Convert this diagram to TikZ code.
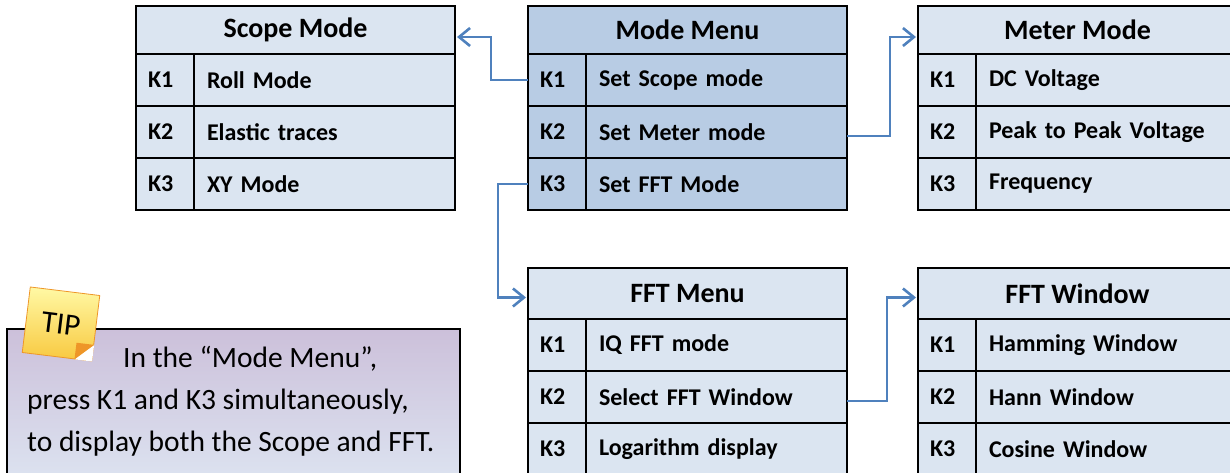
\documentclass[tikz,border=0pt]{standalone}
\usepackage{fontspec}
\setmainfont{Carlito}
\usetikzlibrary{arrows.meta, positioning, calc}
\definecolor{cellblue}{RGB}{219,229,241}
\definecolor{menublue}{RGB}{184,204,228}
\definecolor{linkblue}{RGB}{79,129,189}
\definecolor{tiptop}{RGB}{204,192,218}
\definecolor{tipbottom}{RGB}{222,231,243}
\definecolor{noteyellow}{RGB}{255,249,165}
\definecolor{noteorange}{RGB}{248,200,62}
\definecolor{notefold}{RGB}{238,150,40}

\begin{document}
\begin{tikzpicture}[
    x=1pt, y=-1pt,
    headcell/.style={rectangle, draw=black, line width=1.2pt, fill=cellblue,
                minimum width=319pt, minimum height=48pt, inner sep=0pt, outer sep=0pt,
                anchor=north west, font=\fontsize{28}{34}\selectfont\bfseries},
    keycell/.style={rectangle, draw=black, line width=1.2pt, fill=cellblue,
                text width=34pt, inner xsep=12pt, inner ysep=0pt, outer sep=0pt,
                minimum height=52pt, align=left, font=\fontsize{24}{29}\selectfont\bfseries},
    rowcell/.style={keycell, text width=235pt, inner xsep=13pt},
    tableframe/.style={draw=black, line width=2.6pt},
    link/.style={draw=linkblue, line width=2.6pt, shorten >=2pt,
                -{Straight Barb[length=11pt, width=18pt]}},
    tipbox/.style={rectangle, draw=black, line width=2pt, top color=tiptop,
                bottom color=tipbottom, minimum width=453pt, minimum height=170pt},
    tipnote/.style={rectangle, draw=notefold, line width=0.8pt, top color=noteyellow,
                bottom color=noteorange, minimum width=70pt, minimum height=66pt,
                inner sep=0pt, font=\fontsize{31}{31}\selectfont},
    tiptext/.style={inner sep=0pt, align=left, font=\fontsize{29.5}{42}\selectfont}
]
    \clip (0,0) rectangle (1230,473);

    % Scope mode
    \node[headcell] (scope) at (136,6) {Scope Mode};
    \node[keycell, anchor=north west] (scopek1) at (scope.south west) {K1};
    \node[rowcell, right=0pt of scopek1] (roll) {Roll Mode};
    \node[keycell, below=0pt of scopek1] (scopek2) {K2};
    \node[rowcell, right=0pt of scopek2] (elastic) {Elastic traces};
    \node[keycell, below=0pt of scopek2] (scopek3) {K3};
    \node[rowcell, right=0pt of scopek3] (xymode) {XY Mode};

    % Mode menu
    \node[headcell, fill=menublue] (menu) at (528,6) {Mode Menu};
    \node[keycell, fill=menublue, anchor=north west] (menuk1) at (menu.south west) {K1};
    \node[rowcell, fill=menublue, right=0pt of menuk1] (setscope) {Set Scope mode};
    \node[keycell, fill=menublue, below=0pt of menuk1] (menuk2) {K2};
    \node[rowcell, fill=menublue, right=0pt of menuk2] (setmeter) {Set Meter mode};
    \node[keycell, fill=menublue, below=0pt of menuk2] (menuk3) {K3};
    \node[rowcell, fill=menublue, right=0pt of menuk3] (setfft) {Set FFT Mode};

    % Meter mode
    \node[headcell] (meter) at (918,6) {Meter Mode};
    \node[keycell, anchor=north west] (meterk1) at (meter.south west) {K1};
    \node[rowcell, right=0pt of meterk1] (dcvolt) {DC Voltage};
    \node[keycell, below=0pt of meterk1] (meterk2) {K2};
    \node[rowcell, right=0pt of meterk2] (peakvolt) {Peak to Peak Voltage};
    \node[keycell, below=0pt of meterk2] (meterk3) {K3};
    \node[rowcell, right=0pt of meterk3] (freq) {Frequency};

    % FFT menu
    \node[headcell, minimum height=51pt] (fft) at (528,268) {FFT Menu};
    \node[keycell, anchor=north west] (fftk1) at (fft.south west) {K1};
    \node[rowcell, right=0pt of fftk1] (iqfft) {IQ FFT mode};
    \node[keycell, below=0pt of fftk1] (fftk2) {K2};
    \node[rowcell, right=0pt of fftk2] (selwin) {Select FFT Window};
    \node[keycell, below=0pt of fftk2] (fftk3) {K3};
    \node[rowcell, right=0pt of fftk3] (logdisp) {Logarithm display};

    % FFT window
    \node[headcell, minimum height=51pt] (fftwin) at (918,268) {FFT Window};
    \node[keycell, anchor=north west] (wink1) at (fftwin.south west) {K1};
    \node[rowcell, right=0pt of wink1] (hamming) {Hamming Window};
    \node[keycell, below=0pt of wink1] (wink2) {K2};
    \node[rowcell, right=0pt of wink2] (hann) {Hann Window};
    \node[keycell, below=0pt of wink2] (wink3) {K3};
    \node[rowcell, right=0pt of wink3] (cosine) {Cosine Window};

    % Frames
    \draw[tableframe] (scope.north west) rectangle (xymode.south east);
    \draw[tableframe] (menu.north west) rectangle (setfft.south east);
    \draw[tableframe] (meter.north west) rectangle (freq.south east);
    \draw[tableframe] (fft.north west) rectangle (logdisp.south east);
    \draw[tableframe] (fftwin.north west) rectangle (cosine.south east);

    % Links
    \draw[link] (menuk1.west) -- ++(-37,0) |- ([yshift=-7pt]scope.east);
    \draw[link] ([yshift=-4pt]setmeter.east) -- ++(43,0) |- ([yshift=-7pt]meter.west);
    \draw[link] (menuk3.west) -- ++(-30,0) |- ([yshift=-4pt]fft.west);
    \draw[link] ([yshift=-4pt]selwin.east) -- ++(40,0) |- ([yshift=-4pt]fftwin.west);

    % Tip
    \node[tipbox, anchor=north west] (tip) at (6,328) {};
    \node[tipnote, rotate=-7] (note) at (61,324) {TIP};
    \coordinate (foldA) at ($(note.south east)!0.25!(note.south west)$);
    \coordinate (foldB) at ($(note.south east)!0.25!(note.north east)$);
    \fill[white] (foldA) -- (note.south east) -- (foldB) -- cycle;
    \fill[notefold] (foldA) -- (foldB) -- ($(foldA)+(foldB)-(note.south east)$) -- cycle;
    \node[tiptext, anchor=north west] (tiptext) at (27,346)
        {\hspace*{96pt}In the “Mode Menu”,\\press K1 and K3 simultaneously,\\to display both the Scope and FFT.};
\end{tikzpicture}
\end{document}
